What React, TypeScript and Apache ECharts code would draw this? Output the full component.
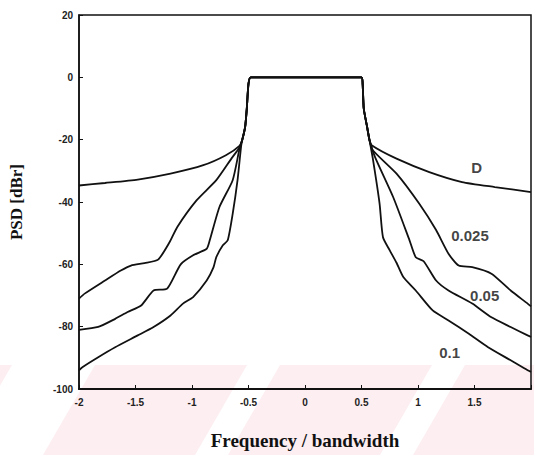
import React, { useEffect, useRef } from "react";
import * as echarts from "echarts";

// Shared passband (top plateau and steep skirts)
const passLeft: number[][] = [[-0.555, -20], [-0.53, -16], [-0.515, -10], [-0.5, -2], [-0.48, 0]];
const passRight: number[][] = [[0.5, 0], [0.51, -2], [0.52, -10], [0.55, -16], [0.57, -20]];

// Roll-off factor 0
const d0Left: number[][] = [[-2, -34.7], [-1.77, -33.9], [-1.48, -32.8], [-1.19, -30.9], [-0.9, -28.2], [-0.7, -25], [-0.58, -22]];
const d0Right: number[][] = [[0.59, -21.8], [0.81, -26.1], [1.1, -30.4], [1.39, -33.6], [1.68, -35.2], [2, -36.8]];

// Roll-off factor 0.025
const d025Left: number[][] = [[-2, -71], [-1.95, -69.4], [-1.77, -65.2], [-1.63, -62], [-1.54, -60.4], [-1.42, -59.6], [-1.3, -58.5], [-1.2, -53], [-1.13, -48], [-0.96, -39.5], [-0.785, -33], [-0.65, -26], [-0.58, -22.5]];
const d025Right: number[][] = [[0.6, -23.4], [0.81, -30.9], [1.01, -40.5], [1.16, -49], [1.27, -56.6], [1.36, -60.4], [1.48, -60.9], [1.65, -63], [1.82, -68.4], [1.97, -72.6], [2, -73.5]];

// Roll-off factor 0.05
const d05Left: number[][] = [[-2, -81], [-1.83, -80.1], [-1.68, -77.5], [-1.57, -75.3], [-1.45, -73.2], [-1.34, -68.4], [-1.22, -67.8], [-1.1, -60], [-0.99, -57.1], [-0.87, -55], [-0.843, -52.3], [-0.757, -41.6], [-0.64, -33], [-0.58, -23]];
const d05Right: number[][] = [[0.62, -25.6], [0.78, -38.4], [0.925, -52.3], [0.98, -57.7], [1.05, -59], [1.16, -65.2], [1.27, -68.4], [1.48, -72.6], [1.65, -77], [1.82, -80.1], [1.97, -82.8], [2, -83.3]];

// Roll-off factor 0.1
const d1Left: number[][] = [[-2, -94], [-1.97, -93], [-1.83, -89.8], [-1.68, -86.6], [-1.48, -82.8], [-1.34, -80.1], [-1.19, -76.4], [-1.08, -72.6], [-0.99, -70.5], [-0.87, -65.2], [-0.81, -61], [-0.785, -57.7], [-0.727, -53.9], [-0.684, -52.3], [-0.64, -43.8], [-0.597, -33], [-0.565, -22]];
const d1Right: number[][] = [[0.6, -26], [0.66, -40.5], [0.69, -51.3], [0.75, -55.5], [0.81, -59.5], [0.87, -64.1], [0.98, -68.4], [1.13, -74.8], [1.27, -78], [1.45, -82.3], [1.62, -86.6], [1.82, -90.8], [1.97, -94], [2, -94.5]];

// Curve labels: [text, frequency, level]
const curveLabels: [string, number, number][] = [
  ["D", 1.52, -28.9],
  ["0.025", 1.46, -50.7],
  ["0.05", 1.59, -70],
  ["0.1", 1.28, -88.3],
];

const curves = [
  { name: "0", left: d0Left, right: d0Right },
  { name: "0.025", left: d025Left, right: d025Right },
  { name: "0.05", left: d05Left, right: d05Right },
  { name: "0.1", left: d1Left, right: d1Right },
];

export default function App() {
  const ref = useRef<HTMLDivElement>(null);
  useEffect(() => {
    document.body.style.margin = "0";
    if (!ref.current) return;
    const chart = echarts.init(ref.current, null, { renderer: "svg" });

    const pink = "#fdeef1";
    const stripeTops = [-140, 95, 280, 465];
    const wm: any[] = stripeTops.map((x0) => ({
      type: "polygon",
      silent: true,
      z: -10,
      shape: {
        points: [
          [x0, 365],
          [x0 + 152, 365],
          [x0 + 152 - 52, 455],
          [x0 - 52, 455],
        ],
      },
      style: { fill: pink },
    }));

    const series: any[] = curves.map((c) => ({
      type: "line",
      name: c.name,
      data: [...c.left, ...passLeft, ...passRight, ...c.right],
      showSymbol: false,
      symbol: "none",
      smooth: 0.2,
      lineStyle: { color: "#111", width: 1.8 },
      z: 3,
    }));
    series.push({
      type: "scatter",
      symbolSize: 0,
      data: curveLabels.map((l) => ({ value: [l[1], l[2]], name: l[0] })),
      label: {
        show: true,
        position: "inside",
        formatter: (p: any) => p.name,
        color: "#111",
        fontFamily: "Liberation Sans",
        fontWeight: "bold",
        fontSize: 15,
      },
      z: 4,
    });

    chart.setOption({
      animation: false,
      backgroundColor: "#fff",
      graphic: wm,
      grid: {
        left: 77,
        top: 15,
        right: -3,
        bottom: 66,
        show: true,
        borderColor: "#111",
        borderWidth: 1.5,
        backgroundColor: "transparent",
      },
      xAxis: {
        type: "value",
        min: -2,
        max: 2,
        interval: 0.5,
        name: "Frequency / bandwidth",
        nameLocation: "middle",
        nameGap: 42,
        nameTextStyle: {
          fontFamily: "Liberation Serif",
          fontWeight: "bold",
          fontSize: 19,
          color: "#111",
        },
        axisLine: { show: true, onZero: false, lineStyle: { color: "#111", width: 2 } },
        axisTick: { show: true, inside: true, length: 4, lineStyle: { color: "#111" } },
        axisLabel: {
          margin: 8,
          fontFamily: "Liberation Sans",
          fontWeight: "bold",
          fontSize: 10,
          color: "#222",
          formatter: (v: number) => (v >= 2 ? "" : String(v)),
        },
        splitLine: { show: false },
      },
      yAxis: {
        type: "value",
        min: -100,
        max: 20,
        interval: 20,
        name: "PSD [dBr]",
        nameLocation: "middle",
        nameGap: 54,
        nameTextStyle: {
          fontFamily: "Liberation Serif",
          fontWeight: "bold",
          fontSize: 17,
          color: "#111",
        },
        axisLine: { show: true, onZero: false, lineStyle: { color: "#111", width: 1.5 } },
        axisTick: { show: true, inside: true, length: 4, lineStyle: { color: "#111" } },
        axisLabel: {
          margin: 6,
          fontFamily: "Liberation Sans",
          fontWeight: "bold",
          fontSize: 10,
          color: "#222",
        },
        splitLine: { show: false },
      },
      series,
    });
    return () => chart.dispose();
  }, []);
  return <div ref={ref} style={{ width: 534, height: 455 }} />;
}
